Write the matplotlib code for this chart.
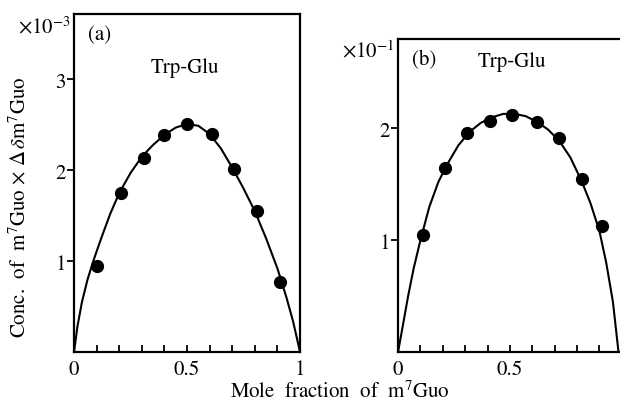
import matplotlib
matplotlib.use('Agg')
import matplotlib.pyplot as plt

plt.rcParams['font.family'] = ['STIXGeneral', 'DejaVu Serif']
plt.rcParams['mathtext.fontset'] = 'stix'

# 测定点 (a)
xa = [0.10, 0.21, 0.31, 0.40, 0.50, 0.61, 0.71, 0.81, 0.91]
ya = [0.95, 1.75, 2.13, 2.39, 2.51, 2.40, 2.01, 1.55, 0.77]
# 拟合曲线 (a)
ca_x = [0, 0.015, 0.035, 0.06, 0.085, 0.12, 0.16, 0.2, 0.25, 0.3, 0.35, 0.4, 0.45,
        0.5, 0.55, 0.6, 0.65, 0.7, 0.75, 0.8, 0.85, 0.9, 0.94, 0.97, 1.0]
ca_y = [0, 0.28, 0.55, 0.8, 1.0, 1.25, 1.52, 1.75, 1.97, 2.15, 2.28, 2.39, 2.47,
        2.51, 2.49, 2.40, 2.24, 2.03, 1.80, 1.55, 1.25, 0.92, 0.6, 0.33, 0]

# 测定点 (b)
xb = [0.11, 0.21, 0.31, 0.41, 0.51, 0.62, 0.72, 0.82, 0.91]
yb = [1.05, 1.65, 1.96, 2.07, 2.12, 2.06, 1.91, 1.55, 1.13]
# 拟合曲线 (b)
cb_x = [0, 0.02, 0.045, 0.07, 0.1, 0.14, 0.18, 0.22, 0.27, 0.32, 0.37, 0.42, 0.47,
        0.52, 0.57, 0.62, 0.67, 0.72, 0.77, 0.82, 0.86, 0.9, 0.93, 0.96, 0.985]
cb_y = [0, 0.22, 0.5, 0.75, 1.0, 1.3, 1.52, 1.68, 1.85, 1.97, 2.05, 2.1, 2.13,
        2.13, 2.11, 2.06, 1.99, 1.89, 1.74, 1.53, 1.33, 1.08, 0.8, 0.45, 0]

xticks = [0, 0.1, 0.2, 0.3, 0.4, 0.5, 0.6, 0.7, 0.8, 0.9, 1.0]
xlabels_a = ['0', '', '', '', '', '0.5', '', '', '', '', '1']
xlabels_b = ['0', '', '', '', '', '0.5', '', '', '', '', '']  # 右边被裁掉

fig = plt.figure(figsize=(6.2, 4.06), dpi=100)
ax1 = fig.add_axes([0.1194, 0.1305, 0.3645, 0.8325])
ax2 = fig.add_axes([0.642, 0.1305, 0.361, 0.771])

fs = 15
for ax, px, py, cx, cy, ymax, yt, xl in [
        (ax1, xa, ya, ca_x, ca_y, 3.72, [1, 2, 3], xlabels_a),
        (ax2, xb, yb, cb_x, cb_y, 2.8, [1, 2], xlabels_b)]:
    ax.plot(cx, cy, color='black', lw=1.5)
    ax.plot(px, py, 'o', color='black', ms=8.5)
    ax.set_xlim(0, 1)
    ax.set_ylim(0, ymax)
    ax.set_xticks(xticks)
    ax.set_xticklabels(xl, fontsize=fs)
    ax.set_yticks(yt)
    ax.set_yticklabels([str(v) for v in yt], fontsize=fs)
    ax.tick_params(axis='x', direction='in', length=5, width=1.3, pad=5)
    ax.tick_params(axis='y', direction='out', length=5, width=1.3, pad=1)
    for s in ax.spines.values():
        s.set_linewidth(1.6)

ax1.text(0.115, 0.94, '(a)', transform=ax1.transAxes, fontsize=fs, ha='center', va='center')
ax1.text(0.49, 0.843, 'Trp-Glu', transform=ax1.transAxes, fontsize=fs, ha='center', va='center')
ax2.text(0.115, 0.936, '(b)', transform=ax2.transAxes, fontsize=fs, ha='center', va='center')
ax2.text(0.509, 0.93, 'Trp-Glu', transform=ax2.transAxes, fontsize=fs, ha='center', va='center')

fig.text(0.071, 0.933, r'$\times 10^{-3}$', fontsize=fs, ha='center', va='center')
fig.text(0.594, 0.872, r'$\times 10^{-1}$', fontsize=fs, ha='center', va='center')
fig.text(0.032, 0.49, r'Conc.  of  m$^7$Guo $\times$ $\mathit{\Delta}\,\delta$m$^7$Guo',
         rotation=90, fontsize=fs, ha='center', va='center')
fig.text(0.548, 0.008, r'Mole  fraction  of  m$^7$Guo', fontsize=fs, ha='center', va='bottom')

fig.savefig('out.png', dpi=100)
